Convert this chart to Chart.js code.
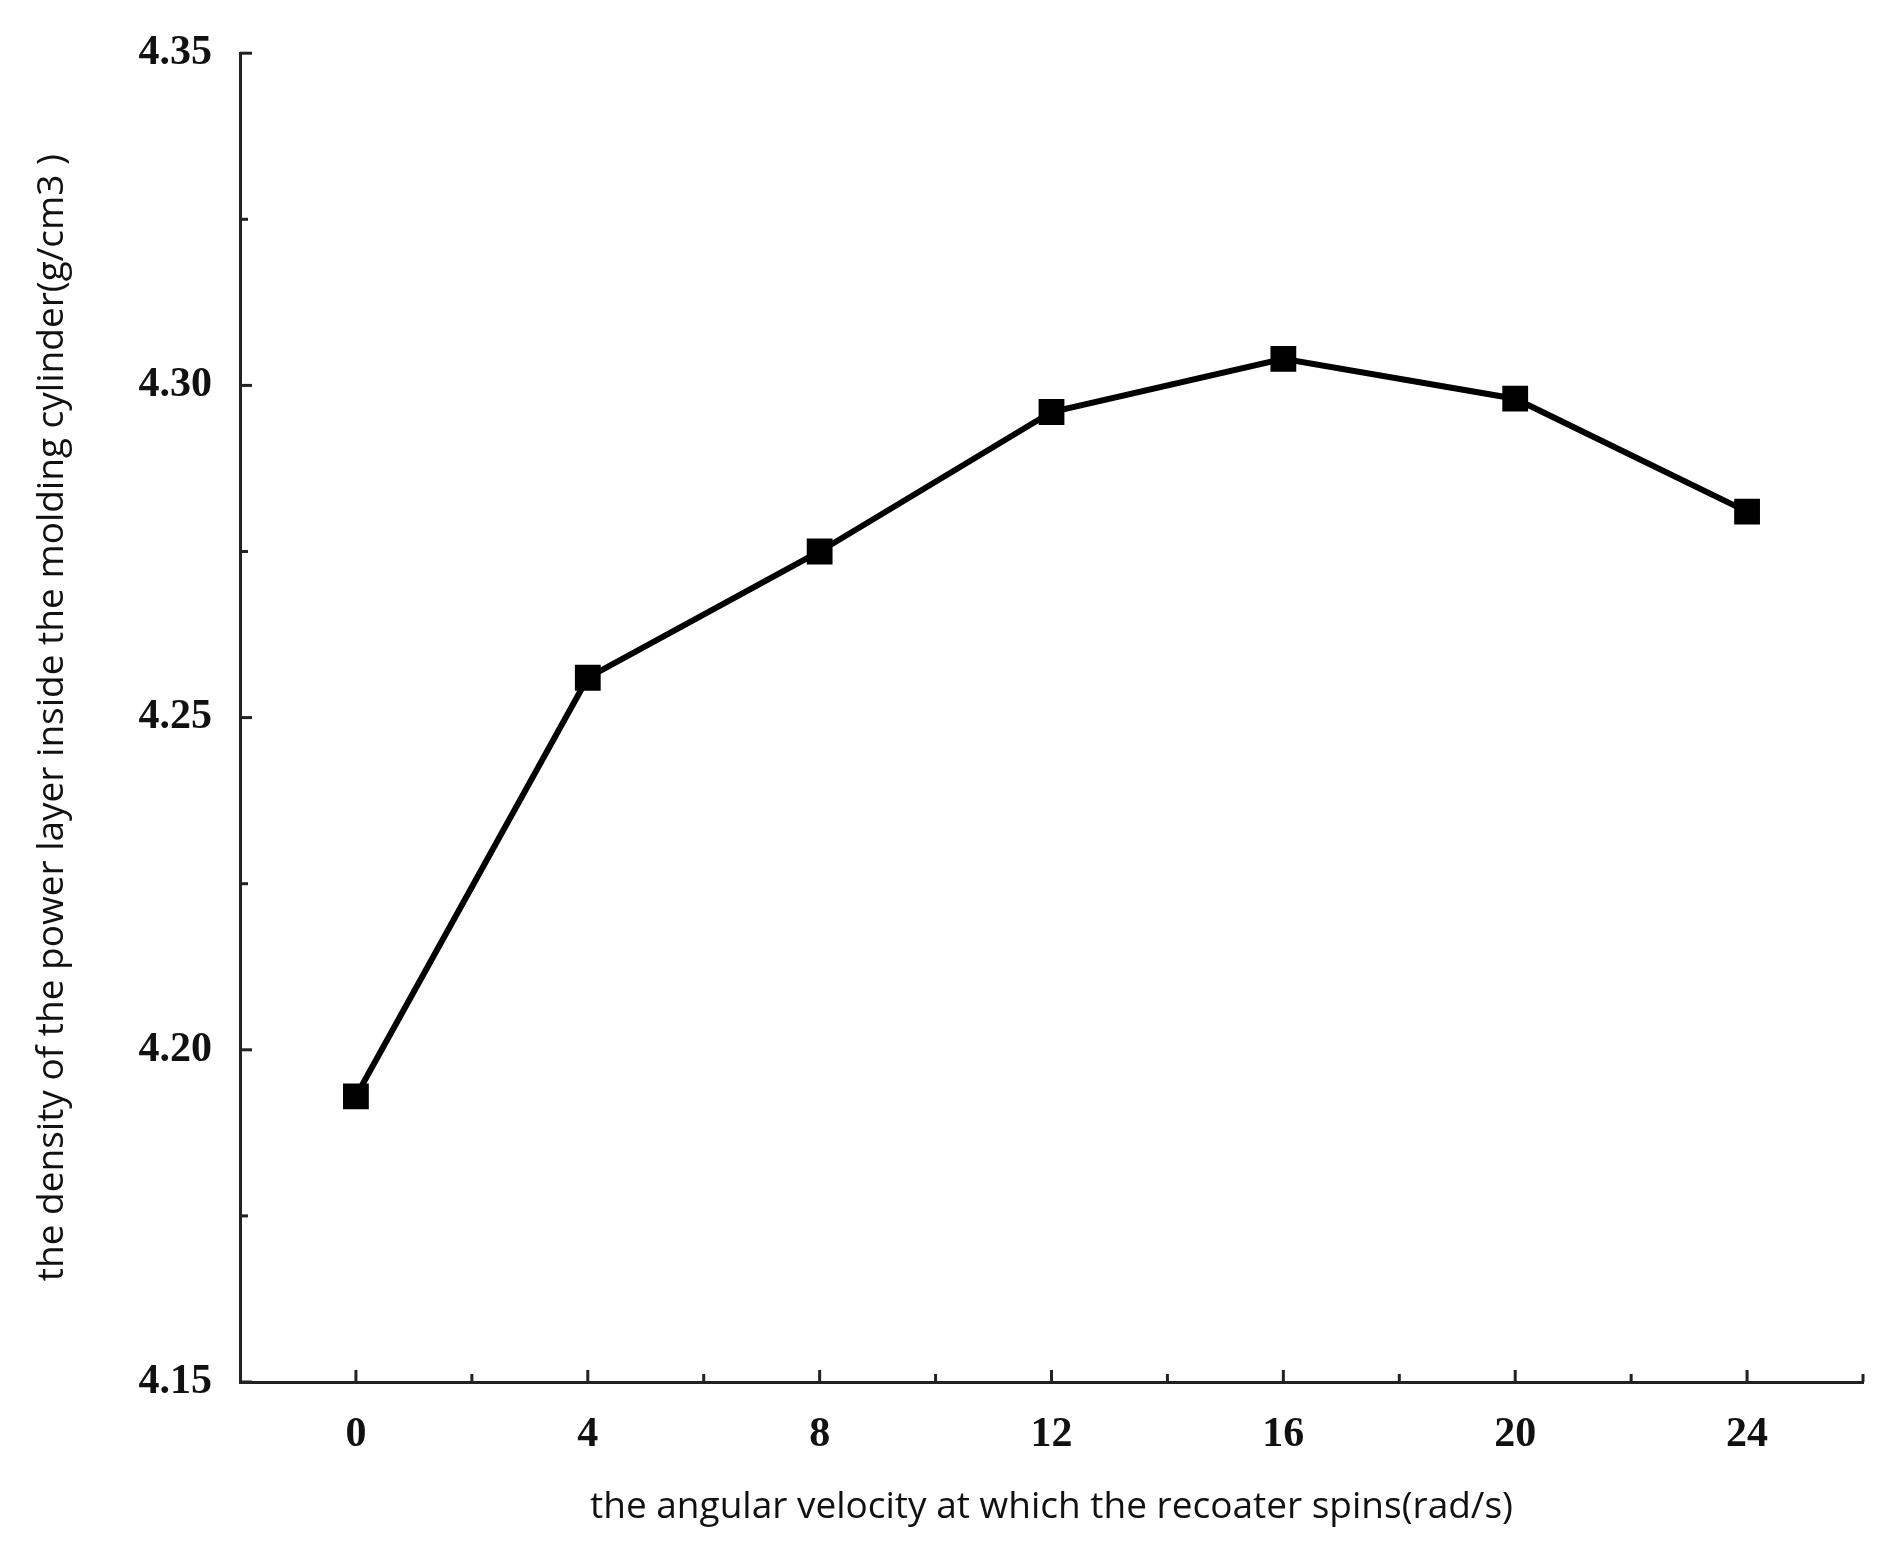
<!DOCTYPE html>
<html><head><meta charset="utf-8">
<script src="https://cdn.jsdelivr.net/npm/chart.js@4"></script>
<style>html,body{margin:0;background:#fff}#w{width:1903px;height:1546px}</style>
</head><body><div id="w"><canvas id="c"></canvas></div>
<script>
const xValues = [0, 4, 8, 12, 16, 20, 24];
const densities = [4.193, 4.256, 4.275, 4.296, 4.304, 4.298, 4.281];
const xLabel = 'the angular velocity at which the recoater spins(rad/s)';
const yLabel = 'the density of the power layer inside the molding cylinder(g/cm3 )';

const inwardTicks = {
  id: 'inwardTicks',
  afterDraw(chart) {
    const {ctx, scales: {x, y}} = chart;
    ctx.save(); ctx.strokeStyle = '#222'; ctx.lineWidth = 3;
    for (let v = 0; v <= 26; v += 2) {
      const px = x.getPixelForValue(v), L = v % 4 === 0 ? 12 : 8;
      ctx.beginPath(); ctx.moveTo(px, y.bottom); ctx.lineTo(px, y.bottom - L); ctx.stroke();
    }
    for (let i = 0; i <= 8; i++) {
      const py = y.getPixelForValue(4.15 + i * 0.025), L = i % 2 === 0 ? 12 : 8;
      ctx.beginPath(); ctx.moveTo(x.left, py); ctx.lineTo(x.left + L, py); ctx.stroke();
    }
    ctx.restore();
  }
};

new Chart(document.getElementById('c'), {
  type: 'line',
  data: { datasets: [{
    data: xValues.map((v, i) => ({x: v, y: densities[i]})),
    borderColor: '#000', borderWidth: 6, pointStyle: 'rect', pointRadius: 14,
    pointBackgroundColor: '#000', pointBorderColor: '#000', tension: 0
  }]},
  options: {
    responsive: true, maintainAspectRatio: false, animation: false,
    layout: { padding: { top: 50, right: 40, left: 0, bottom: 12 } },
    plugins: { legend: { display: false }, tooltip: { enabled: false } },
    scales: {
      x: { type: 'linear', min: -2, max: 26,
        afterBuildTicks: s => { s.ticks = xValues.map(v => ({value: v})); },
        grid: { display: false, drawTicks: false },
        border: { display: true, color: '#222', width: 3 },
        ticks: { color: '#111', padding: 28, font: { family: 'Liberation Serif', weight: 'bold', size: 42 } },
        title: { display: true, text: xLabel, color: '#111', padding: { top: 8 }, font: { family: 'Open Sans', size: 37 } },
        afterFit: s => { s.height = 152; } },
      y: { min: 4.15, max: 4.35,
        afterBuildTicks: s => { s.ticks = [4.15,4.20,4.25,4.30,4.35].map(v => ({value: v})); },
        grid: { display: false, drawTicks: false },
        border: { display: true, color: '#222', width: 3 },
        ticks: { color: '#111', padding: 28, callback: v => v.toFixed(2), font: { family: 'Liberation Serif', weight: 'bold', size: 42 } },
        title: { display: true, text: yLabel, color: '#111', padding: { top: 30, bottom: 0 }, font: { family: 'Open Sans', size: 37 } },
        afterFit: s => { s.width = 240; } }
    }
  },
  plugins: [inwardTicks]
});
</script></body></html>
